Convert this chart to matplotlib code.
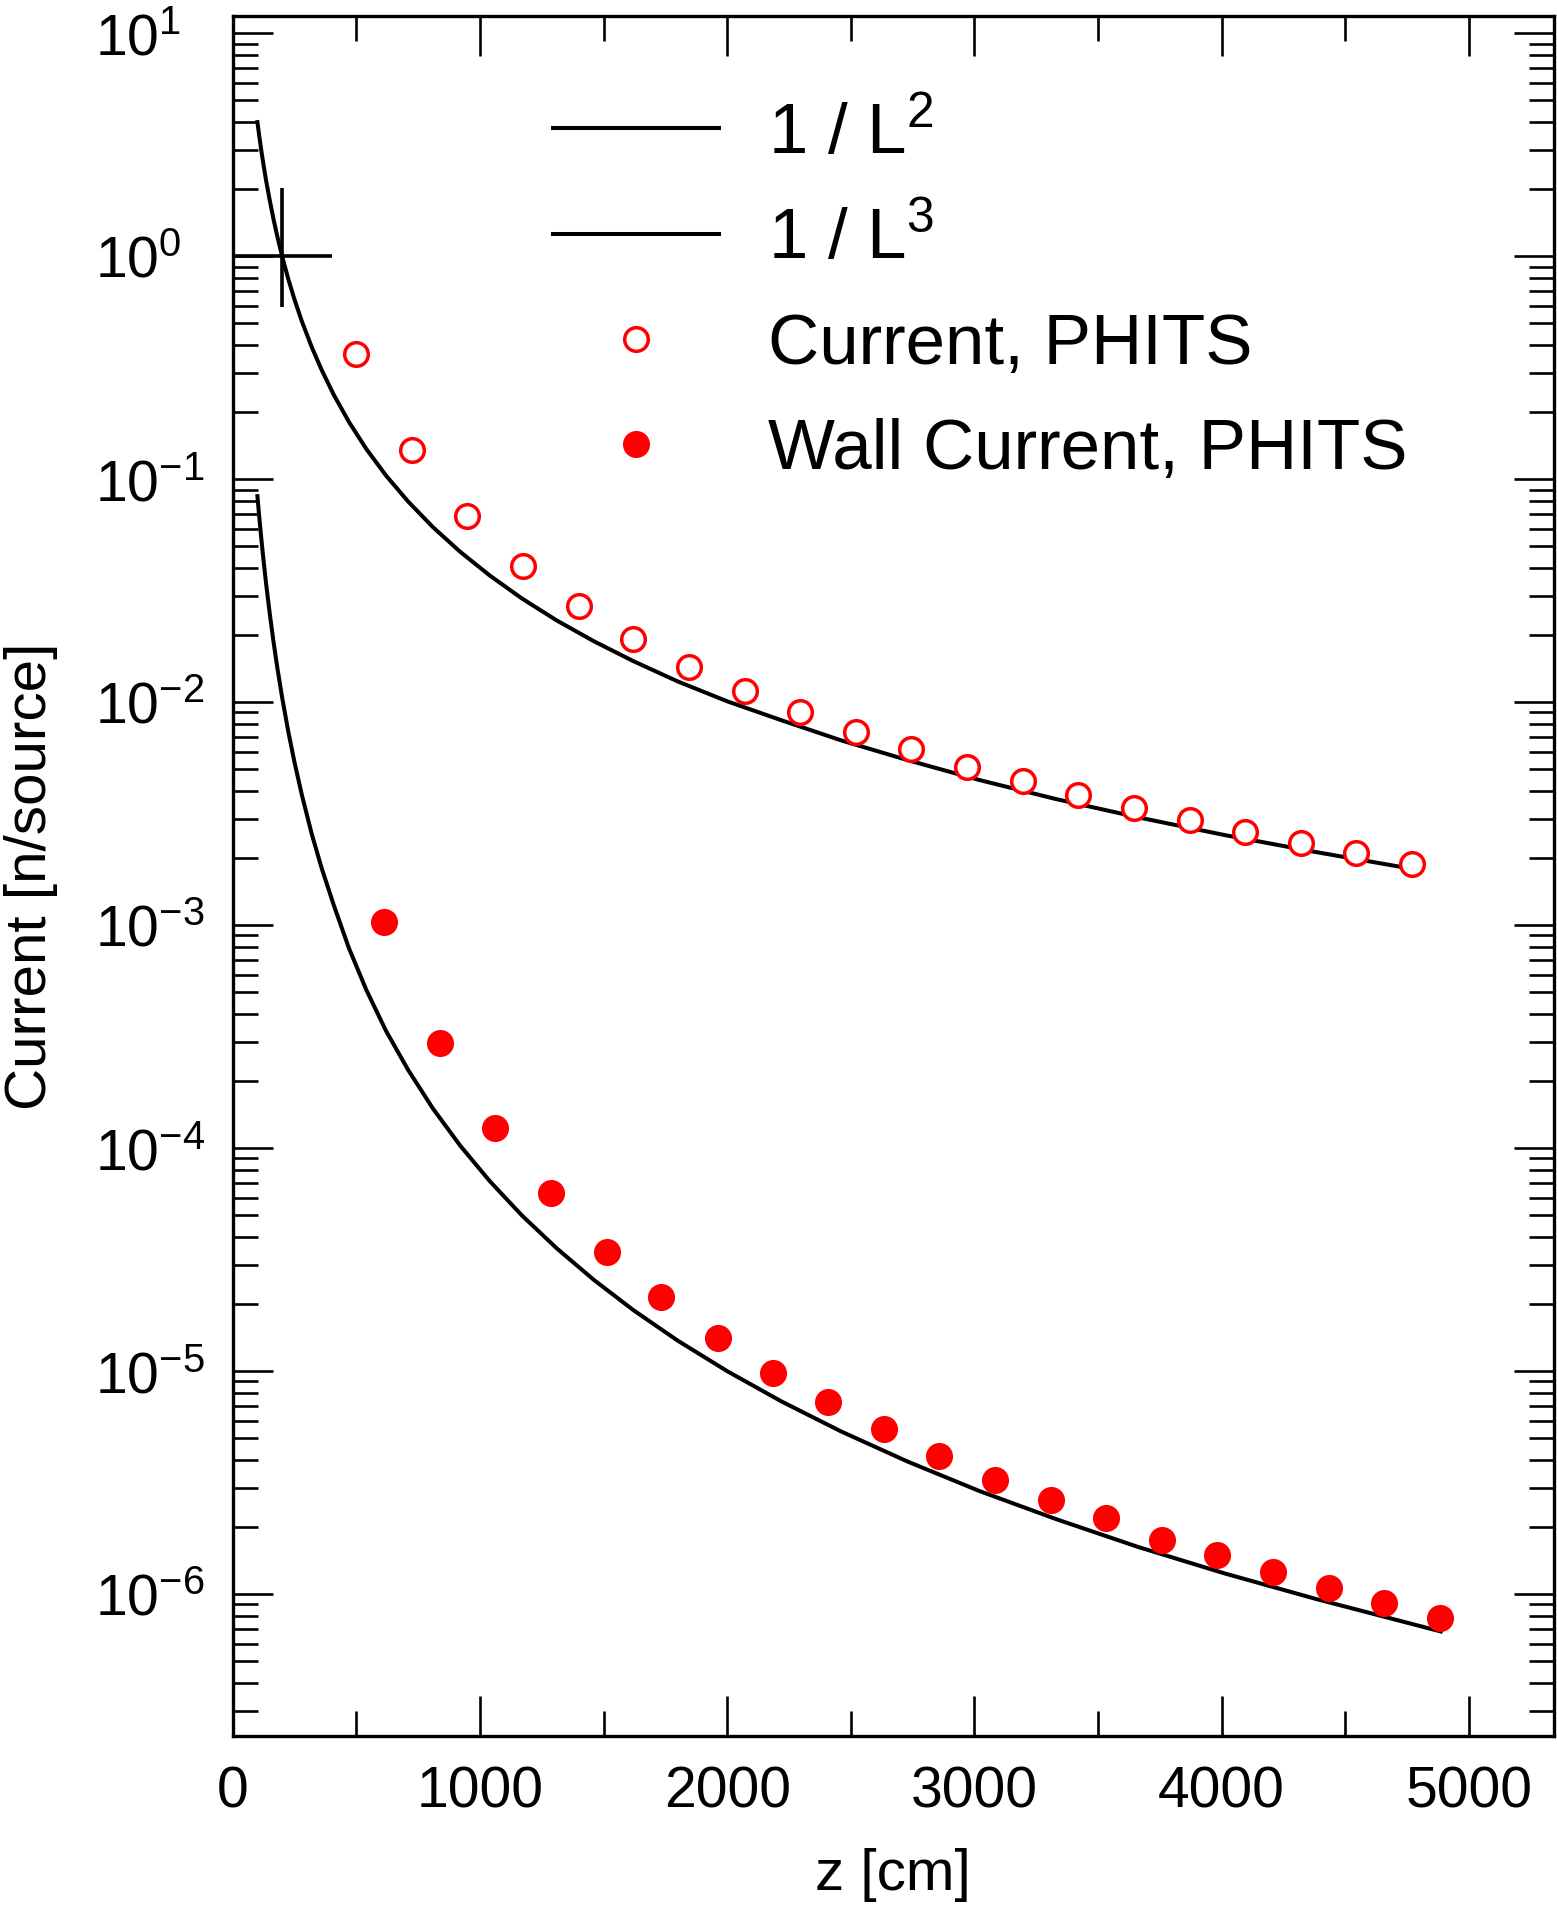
import matplotlib
matplotlib.use("Agg")
import matplotlib.pyplot as plt
from matplotlib import ticker

plt.rcParams['font.family'] = ['Liberation Sans', 'DejaVu Sans']
plt.rcParams['mathtext.default'] = 'regular'

# PHITS results, z in cm
z_current = [497, 724, 946, 1173, 1399, 1621, 1847, 2074, 2296, 2522,
             2744, 2970, 3197, 3419, 3645, 3872, 4094, 4320, 4542, 4769]
current = [0.366, 0.1355, 0.0688, 0.0410, 0.0271, 0.0193, 0.01445, 0.01122, 0.00907, 0.00733,
           0.00614, 0.00515, 0.00443, 0.00385, 0.00336, 0.00296, 0.00261, 0.00233, 0.00211, 0.00188]

z_wall = [611, 837, 1059, 1286, 1512, 1734, 1961, 2187, 2409, 2636,
          2857, 3084, 3311, 3532, 3759, 3981, 4207, 4434, 4655, 4882]
wall = [1.03e-3, 2.96e-4, 1.23e-4, 6.31e-5, 3.41e-5, 2.16e-5, 1.41e-5, 9.8e-6, 7.24e-6, 5.49e-6,
        4.16e-6, 3.24e-6, 2.65e-6, 2.19e-6, 1.75e-6, 1.50e-6, 1.26e-6, 1.06e-6, 9.08e-7, 7.81e-7]

# reference curves
z_l2 = [100, 107, 115, 125, 135, 150, 165, 180, 200, 225, 250, 280, 320, 360, 410, 470,
        540, 620, 710, 810, 920, 1040, 1170, 1310, 1460, 1620, 1800, 2000, 2220, 2460,
        2730, 3020, 3330, 3660, 4010, 4380, 4770]
l2 = [4.0, 3.49, 3.02, 2.56, 2.19, 1.78, 1.47, 1.235, 1.0, 0.790, 0.640, 0.510, 0.391, 0.309,
      0.238, 0.181, 0.137, 0.104, 0.0794, 0.0610, 0.0473, 0.0370, 0.0292, 0.0233, 0.0188,
      0.0153, 0.0124, 0.0101, 0.0083, 0.00675, 0.0055, 0.00448, 0.00368, 0.00305, 0.00254,
      0.00213, 0.00179]

z_l3 = [100, 107, 115, 125, 135, 150, 165, 180, 200, 225, 250, 280, 320, 360, 410, 470,
        540, 620, 710, 810, 920, 1040, 1170, 1310, 1460, 1620, 1800, 2000, 2220, 2460,
        2730, 3020, 3330, 3660, 4010, 4380, 4886]
l3 = [0.084, 0.0686, 0.0552, 0.0430, 0.0341, 0.0249, 0.0187, 0.0144, 0.0105, 0.00737,
      0.00538, 0.00383, 0.00256, 0.00180, 0.00122, 0.00079, 0.000514, 0.000336, 0.000224,
      0.0001505, 0.0001027, 7.11e-5, 4.99e-5, 3.56e-5, 2.57e-5, 1.88e-5, 1.37e-5, 1.0e-5,
      7.31e-6, 5.37e-6, 3.93e-6, 2.90e-6, 2.17e-6, 1.63e-6, 1.24e-6, 9.52e-7, 6.8e-7]

# normalisation point
ref_z = [200]
ref_val = [1.0]
ref_xerr = [[200], [200]]
ref_yerr = [[0.41], [1.02]]

fig = plt.figure(figsize=(15.57, 19.10), dpi=100)
ax = fig.add_axes([0.14945, 0.0911, 0.8486, 0.9005])

ax.plot(z_l2, l2, color='black', lw=2.9, label='1 / L$^2$')
ax.plot(z_l3, l3, color='black', lw=2.9, label='1 / L$^3$')
ax.plot(z_current, current, 'o', ls='none', ms=17, mfc='white', mec='red', mew=2.5,
        label='Current, PHITS')
ax.plot(z_wall, wall, 'o', ls='none', ms=19.5, mfc='red', mec='red', mew=0,
        label='Wall Current, PHITS')
ax.errorbar(ref_z, ref_val, xerr=ref_xerr, yerr=ref_yerr, fmt='none', ecolor='black',
            elinewidth=2.6, capsize=0)

ax.set_yscale('log')
ax.set_xlim(0, 5344)
ax.set_ylim(2.31e-7, 11.96)

ax.xaxis.set_major_locator(ticker.MultipleLocator(1000))
ax.xaxis.set_minor_locator(ticker.MultipleLocator(500))
ax.yaxis.set_major_locator(ticker.LogLocator(base=10, numticks=30))
ax.yaxis.set_minor_locator(ticker.LogLocator(base=10, subs=range(2, 10), numticks=30))
ax.yaxis.set_minor_formatter(ticker.NullFormatter())

ax.tick_params(which='both', direction='in', top=True, right=True, width=1.9)
ax.tick_params(which='major', length=28.8, labelsize=41)
ax.tick_params(which='minor', length=18)
ax.tick_params(axis='x', which='major', pad=21)
ax.tick_params(axis='y', which='major', pad=99)
for lab in ax.get_yticklabels():
    lab.set_horizontalalignment('left')

for sp in ax.spines.values():
    sp.set_linewidth(2.4)

ax.set_xlabel('z [cm]', fontsize=42)
ax.set_ylabel('Current [n/source]', fontsize=42)
ax.xaxis.set_label_coords(0.5, -0.065)
ax.yaxis.set_label_coords(-0.1322, 0.5)

ax.legend(loc='upper left', bbox_to_anchor=(0.2424, 0.9505), frameon=False, fontsize=51,
          handlelength=2.35, handletextpad=0.68, labelspacing=0.55, borderpad=0,
          borderaxespad=0, numpoints=1)

fig.savefig('out.png', dpi=100)
